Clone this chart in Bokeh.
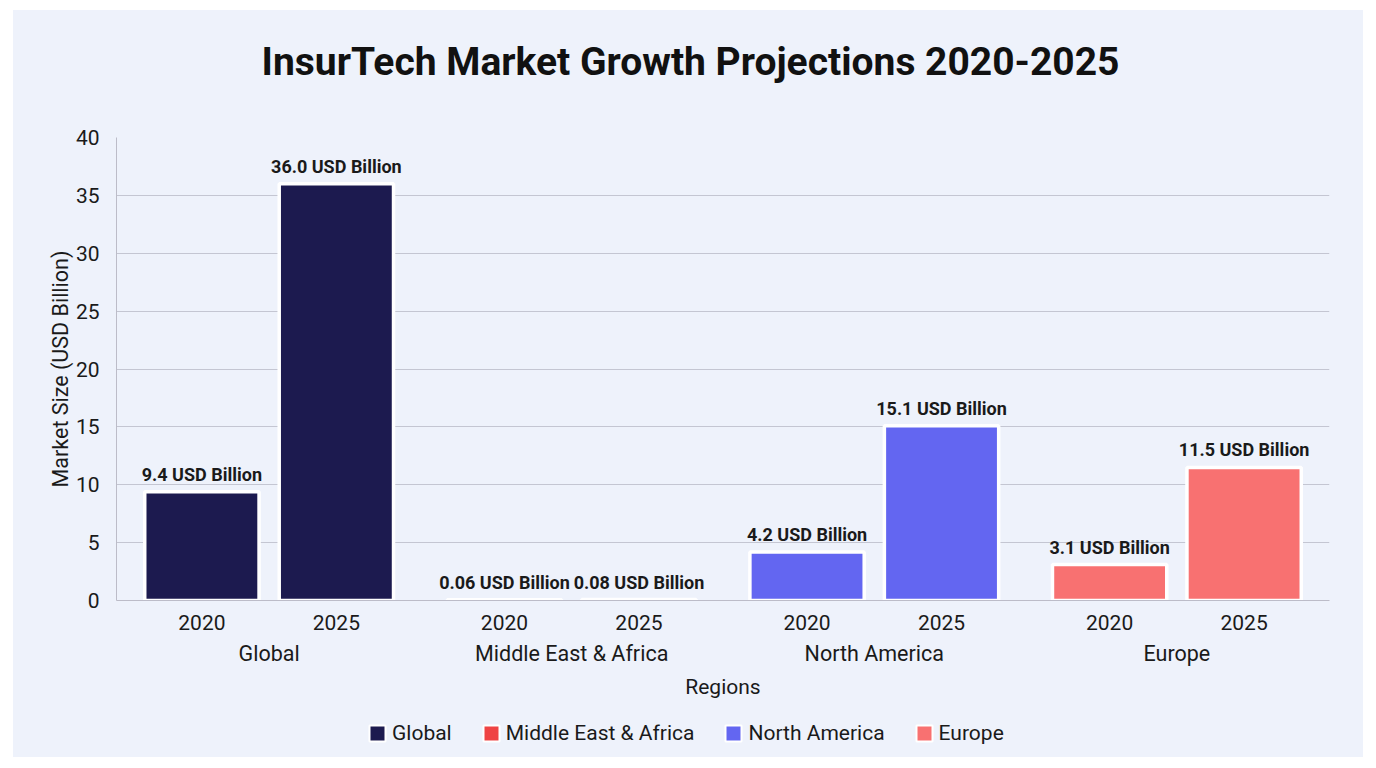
from bokeh.plotting import figure
from bokeh.layouts import column
from bokeh.models import ColumnDataSource, FactorRange, Legend, LegendItem, CDSView, GroupFilter
from bokeh.core.properties import value
from bokeh.embed import file_html
from bokeh.resources import INLINE

# Market size by region, USD billion
regions = ["Global", "Middle East & Africa", "North America", "Europe"]
years = ["2020", "2025"]
values_2020 = [9.4, 0.06, 4.2, 3.1]
values_2025 = [36.0, 0.08, 15.1, 11.5]
label_2020 = ["9.4 USD Billion", "0.06 USD Billion", "4.2 USD Billion", "3.1 USD Billion"]
label_2025 = ["36.0 USD Billion", "0.08 USD Billion", "15.1 USD Billion", "11.5 USD Billion"]
region_colors = ["#1c1a4f", "#ef4444", "#6366f1", "#f87171"]
y_ticks = [0, 5, 10, 15, 20, 25, 30, 35, 40]

FONT = "Roboto"
BG = "#eef2fb"
INK = "#1a1a1a"
W = 1350

x, vals, labels, colors, region_of = [], [], [], [], []
for i, r in enumerate(regions):
    for y, v, lab in ((years[0], values_2020[i], label_2020[i]), (years[1], values_2025[i], label_2025[i])):
        x.append((r, y))
        vals.append(v)
        labels.append(lab)
        colors.append(region_colors[i])
        region_of.append(r)

src = ColumnDataSource(data=dict(x=x, value=vals, label=labels, color=colors, region=region_of))


def blank(height):
    f = figure(width=W, height=height, output_backend="svg", toolbar_location=None,
               background_fill_color=None, border_fill_color=BG, min_border=0,
               x_axis_type=None, y_axis_type=None)
    f.outline_line_color = None
    f.xgrid.grid_line_color = None
    f.ygrid.grid_line_color = None
    return f


# Header strip with the chart title (frames are aligned with the chart below,
# so the title is positioned from the frame's left edge)
hdr = blank(117)
hdr.title.text = "InsurTech Market Growth Projections 2020-2025"
hdr.title.align = "left"
hdr.title.offset = 145
hdr.title.text_font = FONT
hdr.title.text_font_size = "39px"
hdr.title.text_font_style = "bold"
hdr.title.text_color = "#111111"
hdr.title.standoff = 52

# Main bar chart
p = figure(
    x_range=FactorRange(*x, group_padding=0.25, factor_padding=0.0,
                        range_padding=0.135, range_padding_units="absolute"),
    y_range=(0, 40),
    width=W, height=583,
    output_backend="svg", toolbar_location=None,
    background_fill_color=BG, border_fill_color=BG,
    min_border_left=103, min_border_right=34, min_border_top=10, min_border_bottom=110,
)
p.outline_line_color = None

p.vbar(x="x", top="value", width=0.85, source=src,
       fill_color="color", line_color="white", line_width=3.5)

p.text(x="x", y="value", text="label", source=src, text_align="center",
       text_baseline="bottom", y_offset=-7, text_font=value(FONT),
       text_font_size="18px", text_font_style="bold", text_color=INK)

p.yaxis.axis_label = "Market Size (USD Billion)"
p.yaxis.axis_label_text_font = FONT
p.yaxis.axis_label_text_font_size = "21.5px"
p.yaxis.axis_label_text_font_style = "normal"
p.yaxis.axis_label_text_color = INK
p.yaxis.axis_label_standoff = 0
p.yaxis.major_label_text_font = FONT
p.yaxis.major_label_text_font_size = "21px"
p.yaxis.major_label_text_color = INK
p.yaxis.major_tick_line_color = None
p.yaxis.minor_tick_line_color = None
p.yaxis.axis_line_color = "#bcbcc8"
p.yaxis.ticker = y_ticks
p.yaxis.major_label_standoff = 11

p.xaxis.axis_label = "Regions"
p.xaxis.axis_label_text_font = FONT
p.xaxis.axis_label_text_font_size = "21px"
p.xaxis.axis_label_text_font_style = "normal"
p.xaxis.axis_label_text_color = INK
p.xaxis.axis_label_standoff = 6
p.xaxis.major_label_text_font = FONT
p.xaxis.major_label_text_font_size = "21px"
p.xaxis.major_label_text_color = INK
p.xaxis.group_text_font = FONT
p.xaxis.group_text_font_size = "21.5px"
p.xaxis.group_text_color = INK
p.xaxis.group_text_font_style = "normal"
p.xaxis.major_tick_line_color = None
p.xaxis.minor_tick_line_color = None
p.xaxis.axis_line_color = "#bcbcc8"
p.xaxis.separator_line_color = None
p.xaxis.major_label_standoff = 8

p.xgrid.grid_line_color = None
p.ygrid.grid_line_color = "#c4c6d2"
p.ygrid.grid_line_width = 1

# Legend strip underneath the chart; the swatch renderers carry each
# region's rows but stay hidden, only their legend glyphs are drawn
lg = blank(47)
items = []
for r, c in zip(regions, region_colors):
    view = CDSView(filter=GroupFilter(column_name="region", group=r))
    rend = lg.vbar(x="value", top="value", width=1, source=src, view=view,
                   fill_color=c, line_color="white", line_width=2)
    rend.visible = False
    items.append(LegendItem(label=r, renderers=[rend]))
legend = Legend(
    items=items, orientation="horizontal", location=(251, 12),
    label_text_font=FONT, label_text_font_size="21px", label_text_color=INK,
    glyph_width=20, glyph_height=20, spacing=29, label_standoff=5,
    background_fill_alpha=0, border_line_color=None, margin=0, padding=2,
)
lg.add_layout(legend, "center")

layout = column(hdr, p, lg, spacing=0, margin=(10, 13, 11, 13),
                styles={"background-color": BG})

open("out.html", "w").write(file_html(layout, INLINE))
